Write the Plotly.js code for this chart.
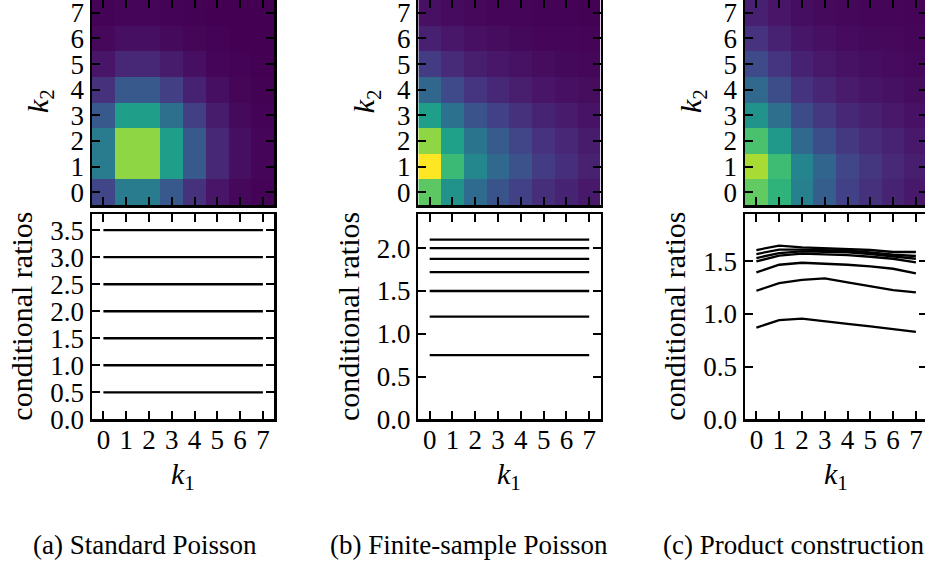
<!DOCTYPE html>
<html>
<head>
<meta charset="utf-8">
<script src="https://cdn.plot.ly/plotly-3.0.1.min.js"></script>
<style>
html,body{margin:0;padding:0;overflow:hidden;background:#fff;}
#chart{width:930px;height:567px;}
</style>
</head>
<body>
<div id="chart"></div>
<script>
// ---------- data ----------
var k1Values = [0, 1, 2, 3, 4, 5, 6, 7];
var k2Values = [0, 1, 2, 3, 4, 5, 6, 7];
var tickLabels = ["0", "1", "2", "3", "4", "5", "6", "7"];

// heatmaps: rows are k2 = 0..7, columns k1 = 0..7
var heatStandard = [
  [0.0183, 0.0366, 0.0366, 0.0244, 0.0122, 0.0049, 0.0016, 0.0005],
  [0.0366, 0.0733, 0.0733, 0.0488, 0.0244, 0.0098, 0.0033, 0.0009],
  [0.0366, 0.0733, 0.0733, 0.0488, 0.0244, 0.0098, 0.0033, 0.0009],
  [0.0244, 0.0488, 0.0488, 0.0325, 0.0163, 0.0065, 0.0022, 0.0006],
  [0.0122, 0.0244, 0.0244, 0.0163, 0.0081, 0.0033, 0.0011, 0.0003],
  [0.0049, 0.0098, 0.0098, 0.0065, 0.0033, 0.0013, 0.0004, 0.0001],
  [0.0016, 0.0033, 0.0033, 0.0022, 0.0011, 0.0004, 0.0001, 0.0000],
  [0.0005, 0.0009, 0.0009, 0.0006, 0.0003, 0.0001, 0.0000, 0.0000]
];
var heatFinite = [
  [0.0660, 0.0449, 0.0304, 0.0224, 0.0165, 0.0112, 0.0086, 0.0059],
  [0.0880, 0.0598, 0.0405, 0.0299, 0.0220, 0.0150, 0.0114, 0.0079],
  [0.0733, 0.0498, 0.0337, 0.0249, 0.0183, 0.0125, 0.0095, 0.0066],
  [0.0489, 0.0333, 0.0225, 0.0166, 0.0122, 0.0083, 0.0064, 0.0044],
  [0.0288, 0.0196, 0.0132, 0.0098, 0.0072, 0.0049, 0.0037, 0.0026],
  [0.0154, 0.0105, 0.0071, 0.0052, 0.0039, 0.0026, 0.0020, 0.0014],
  [0.0077, 0.0052, 0.0035, 0.0026, 0.0019, 0.0013, 0.0010, 0.0007],
  [0.0037, 0.0025, 0.0017, 0.0013, 0.0009, 0.0006, 0.0005, 0.0003]
];
var heatProduct = [
  [0.0667, 0.0572, 0.0379, 0.0261, 0.0167, 0.0121, 0.0086, 0.0058],
  [0.0766, 0.0607, 0.0396, 0.0282, 0.0185, 0.0136, 0.0101, 0.0070],
  [0.0627, 0.0469, 0.0299, 0.0210, 0.0143, 0.0108, 0.0083, 0.0058],
  [0.0450, 0.0319, 0.0202, 0.0142, 0.0097, 0.0075, 0.0058, 0.0042],
  [0.0300, 0.0206, 0.0128, 0.0091, 0.0062, 0.0048, 0.0038, 0.0028],
  [0.0196, 0.0130, 0.0081, 0.0057, 0.0040, 0.0031, 0.0025, 0.0018],
  [0.0125, 0.0081, 0.0050, 0.0035, 0.0025, 0.0019, 0.0016, 0.0012],
  [0.0077, 0.0049, 0.0031, 0.0022, 0.0015, 0.0012, 0.0010, 0.0008]
];
var heatMax = 0.088;

// conditional ratios: one row per k2 = 0..6, values over k1 = 0..7
var ratiosStandard = [
  [0.5, 0.5, 0.5, 0.5, 0.5, 0.5, 0.5, 0.5],
  [1.0, 1.0, 1.0, 1.0, 1.0, 1.0, 1.0, 1.0],
  [1.5, 1.5, 1.5, 1.5, 1.5, 1.5, 1.5, 1.5],
  [2.0, 2.0, 2.0, 2.0, 2.0, 2.0, 2.0, 2.0],
  [2.5, 2.5, 2.5, 2.5, 2.5, 2.5, 2.5, 2.5],
  [3.0, 3.0, 3.0, 3.0, 3.0, 3.0, 3.0, 3.0],
  [3.5, 3.5, 3.5, 3.5, 3.5, 3.5, 3.5, 3.5]
];
var ratiosFinite = [
  [0.75, 0.75, 0.75, 0.75, 0.75, 0.75, 0.75, 0.75],
  [1.20, 1.20, 1.20, 1.20, 1.20, 1.20, 1.20, 1.20],
  [1.50, 1.50, 1.50, 1.50, 1.50, 1.50, 1.50, 1.50],
  [1.72, 1.72, 1.72, 1.72, 1.72, 1.72, 1.72, 1.72],
  [1.875, 1.875, 1.875, 1.875, 1.875, 1.875, 1.875, 1.875],
  [2.00, 2.00, 2.00, 2.00, 2.00, 2.00, 2.00, 2.00],
  [2.10, 2.10, 2.10, 2.10, 2.10, 2.10, 2.10, 2.10]
];
var ratiosProduct = [
  [0.871, 0.942, 0.957, 0.929, 0.907, 0.882, 0.856, 0.831],
  [1.221, 1.294, 1.325, 1.338, 1.300, 1.262, 1.227, 1.205],
  [1.395, 1.468, 1.487, 1.481, 1.468, 1.452, 1.430, 1.386],
  [1.500, 1.554, 1.573, 1.570, 1.560, 1.544, 1.525, 1.490],
  [1.532, 1.579, 1.595, 1.592, 1.586, 1.570, 1.551, 1.525],
  [1.570, 1.611, 1.611, 1.605, 1.601, 1.586, 1.563, 1.551],
  [1.608, 1.649, 1.633, 1.624, 1.618, 1.608, 1.589, 1.589]
];
var ratioTop = [3.8, 2.4, 1.95];
var ratioTicks = [0, 0.5, 1.0, 1.5, 2.0, 2.5, 3.0, 3.5];
var ratioTickText = ["0.0", "0.5", "1.0", "1.5", "2.0", "2.5", "3.0", "3.5"];
var captions = ["(a) Standard Poisson", "(b) Finite-sample Poisson", "(c) Product construction"];

// ---------- layout helpers ----------
var W = 930, H = 567;
function px(x) { return x / W; }
function py(y) { return 1 - y / H; }
var FONT = "Liberation Serif";
var panelLeft = [92, 418.3, 745];
var panelWidth = 182.3;
var heatTop = 0, heatBottom = 205;
var lineTop = 214, lineBottom = 419.3;
var captionLeft = [31, 328, 661];

var heats = [heatStandard, heatFinite, heatProduct];
var ratios = [ratiosStandard, ratiosFinite, ratiosProduct];

var data = [];
var layout = {
  width: W, height: H,
  margin: {l: 0, r: 0, t: 0, b: 0},
  paper_bgcolor: "#ffffff", plot_bgcolor: "#ffffff",
  showlegend: false,
  font: {family: FONT, color: "#000000", size: 27},
  annotations: []
};

function baseAxis() {
  return {
    showline: true, linecolor: "#000000", linewidth: 2.5, mirror: "allticks",
    ticks: "inside", ticklen: 8, tickwidth: 2, tickcolor: "#000000",
    showgrid: false, zeroline: false, fixedrange: true,
    ticklabeloverflow: "allow",
    tickfont: {family: FONT, size: 27, color: "#000000"}
  };
}

for (var p = 0; p < 3; p++) {
  var hx = "x" + (2 * p + 1), hy = "y" + (2 * p + 1);
  var lx = "x" + (2 * p + 2), ly = "y" + (2 * p + 2);
  var hxKey = "xaxis" + (2 * p + 1), hyKey = "yaxis" + (2 * p + 1);
  var lxKey = "xaxis" + (2 * p + 2), lyKey = "yaxis" + (2 * p + 2);
  var dom = [px(panelLeft[p]), px(panelLeft[p] + panelWidth)];

  data.push({
    type: "heatmap", x: k1Values, y: k2Values, z: heats[p],
    colorscale: "Viridis", zmin: 0, zmax: heatMax, showscale: false,
    xaxis: hx, yaxis: hy, hoverinfo: "skip"
  });
  for (var r = 0; r < ratios[p].length; r++) {
    data.push({
      type: "scatter", mode: "lines", x: k1Values, y: ratios[p][r],
      line: {color: "#000000", width: 2.3},
      xaxis: lx, yaxis: ly, hoverinfo: "skip"
    });
  }

  var ax = baseAxis();
  ax.domain = dom; ax.anchor = hy; ax.range = [-0.5, 7.5];
  ax.tickvals = k1Values; ax.showticklabels = false;
  layout[hxKey] = ax;

  var ay = baseAxis();
  ay.domain = [py(heatBottom), py(heatTop)]; ay.anchor = hx; ay.range = [-0.5, 7.5];
  ay.tickvals = k2Values; ay.ticktext = tickLabels;
  layout[hyKey] = ay;

  var bx = baseAxis();
  bx.domain = dom; bx.anchor = ly; bx.range = [-0.5, 7.5];
  bx.tickvals = k1Values; bx.ticktext = tickLabels;
  bx.ticklabelstandoff = -5;
  layout[lxKey] = bx;

  var by = baseAxis();
  by.domain = [py(lineBottom), py(lineTop)]; by.anchor = lx; by.range = [0, ratioTop[p]];
  by.tickvals = ratioTicks; by.ticktext = ratioTickText;
  layout[lyKey] = by;

  // axis titles as annotations
  layout.annotations.push({
    xref: "paper", yref: "paper", x: px(panelLeft[p] - 52), y: py(101),
    text: "<i>k</i><sub>2</sub>", showarrow: false, textangle: -90,
    xanchor: "center", yanchor: "middle", font: {family: FONT, size: 30, color: "#000"}
  });
  layout.annotations.push({
    xref: "paper", yref: "paper", x: px(panelLeft[p] - 70), y: py((lineTop + lineBottom) / 2),
    text: "conditional ratios", showarrow: false, textangle: -90,
    xanchor: "center", yanchor: "middle", font: {family: FONT, size: 30, color: "#000"}
  });
  layout.annotations.push({
    xref: "paper", yref: "paper", x: px(panelLeft[p] + panelWidth / 2), y: py(476),
    text: "<i>k</i><sub>1</sub>", showarrow: false,
    xanchor: "center", yanchor: "middle", font: {family: FONT, size: 30, color: "#000"}
  });
  layout.annotations.push({
    xref: "paper", yref: "paper", x: px(captionLeft[p]), y: py(545),
    text: captions[p], showarrow: false,
    xanchor: "left", yanchor: "middle", font: {family: FONT, size: 27, color: "#000"}
  });
}

Plotly.newPlot("chart", data, layout, {staticPlot: true, displayModeBar: false});
</script>
</body>
</html>
